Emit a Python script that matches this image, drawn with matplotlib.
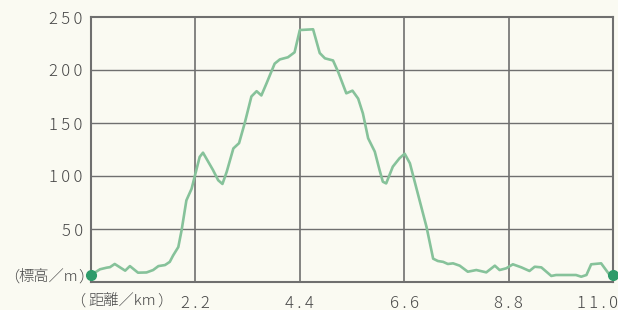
import matplotlib
matplotlib.use("Agg")
import matplotlib.pyplot as plt
import matplotlib.transforms as mtransforms

# distance (km) and elevation (m)
dist = [0.0, 0.19, 0.33, 0.40, 0.50, 0.72, 0.82, 0.99, 1.17, 1.31, 1.42, 1.56, 1.66, 1.73, 1.84,
        1.91, 2.01, 2.12, 2.22, 2.29, 2.36, 2.57, 2.68, 2.77, 2.86, 3.00, 3.12, 3.24, 3.38, 3.49,
        3.59, 3.70, 3.87, 3.98, 4.15, 4.29, 4.40, 4.68, 4.82, 4.93, 5.10, 5.21, 5.38, 5.51, 5.63,
        5.73, 5.84, 5.98, 6.08, 6.15, 6.22, 6.36, 6.50, 6.61, 6.72, 7.07, 7.21, 7.31, 7.42, 7.52,
        7.63, 7.77, 7.94, 8.12, 8.33, 8.51, 8.61, 8.75, 8.89, 9.07, 9.24, 9.35, 9.49, 9.70, 9.80,
        10.22, 10.33, 10.44, 10.54, 10.75, 10.93, 11.0]
elev = [6.6, 12, 13.5, 14, 17, 10.7, 15, 8.8, 9, 11.3, 15, 16, 19, 25, 33,
        49, 77, 88, 105.7, 118, 122, 105.7, 96, 92.5, 104, 126, 131, 150, 175, 180,
        176, 187.5, 206, 210, 212, 216.7, 237.7, 238.4, 216, 211, 209, 198, 178, 180.5, 173,
        159, 135.6, 123, 105.7, 94.6, 93, 108.8, 116.7, 121, 112, 52, 22, 19.8, 19, 17,
        17.6, 15.4, 9.7, 11.3, 9.1, 15.4, 11.3, 12.9, 16.7, 13.8, 10.4, 14.4, 13.8, 5.7, 6.6,
        6.6, 5, 6.6, 16.7, 17.6, 6.6, 6.6]

x_ticks = [2.2, 4.4, 6.6, 8.8, 11.0]
x_tick_labels = ["2.2", "4.4", "6.6", "8.8", "11.0"]
y_ticks = [50, 100, 150, 200, 250]
y_tick_labels = ["50", "100", "150", "200", "250"]
y_unit_inner = "標高／m"
x_unit_inner = "距離／km"

bg = "#FAFAF2"
grid_c = "#6F6F6F"
text_c = "#474747"
line_c = "#86C29A"
dot_c = "#2E9B6A"

FAM = ['Noto Sans CJK JP', 'DejaVu Sans']
plt.rcParams['font.family'] = FAM


def spaced(s):
    return "\u2009".join(s)


fig = plt.figure(figsize=(6.18, 3.10), dpi=100, facecolor=bg)
ax = fig.add_axes([91/618, 28/310, 522/618, 265/310])
ax.set_facecolor(bg)
ax.set_xlim(0, 11)
ax.set_ylim(0, 250)

for v in x_ticks[:-1]:
    ax.axvline(v, color=grid_c, lw=1.2, zorder=1)
for v in y_ticks[:-1]:
    ax.axhline(v, color=grid_c, lw=1.0, zorder=1)
for s in ax.spines.values():
    s.set_color(grid_c)
    s.set_linewidth(1.5)

ax.plot(dist, elev, color=line_c, lw=1.9, solid_joinstyle='round', solid_capstyle='round', zorder=3)
ax.plot([dist[0], dist[-1]], [elev[0], elev[-1]], 'o', color=dot_c, ms=7, zorder=4, clip_on=False)

ax.set_xticks(x_ticks)
ax.set_xticklabels([spaced(t) for t in x_tick_labels])
ax.set_yticks(y_ticks)
ax.set_yticklabels([spaced(t) for t in y_tick_labels])
ax.tick_params(length=0, labelsize=12, labelcolor=text_c)
ax.tick_params(axis='x', pad=9)
ax.tick_params(axis='y', pad=6)
for lab in ax.get_xticklabels() + ax.get_yticklabels():
    lab.set_fontweight('light')

last = ax.get_xticklabels()[-1]
last.set_horizontalalignment('right')
last.set_transform(last.get_transform() + mtransforms.ScaledTranslation(5/100, 0, fig.dpi_scale_trans))

kw = dict(va='center', fontsize=11, fontweight='light', color=text_c)
renderer = fig.canvas.get_renderer()


def unit_label(inner, x_open, x_inner, y, gap):
    yy = 1 - y / 310
    fig.text(x_open / 618, yy, "（", ha='right', **kw)
    t = fig.text(x_inner / 618, yy, inner, ha='left', **kw)
    end_px = t.get_window_extent(renderer).x1
    fig.text((end_px + gap) / 618, yy, "）", ha='left', **kw)


unit_label(y_unit_inner, 19, 18, 277, 0.5)
unit_label(x_unit_inner, 85, 88, 301, 2)

fig.savefig("out.png", dpi=100, facecolor=bg)
